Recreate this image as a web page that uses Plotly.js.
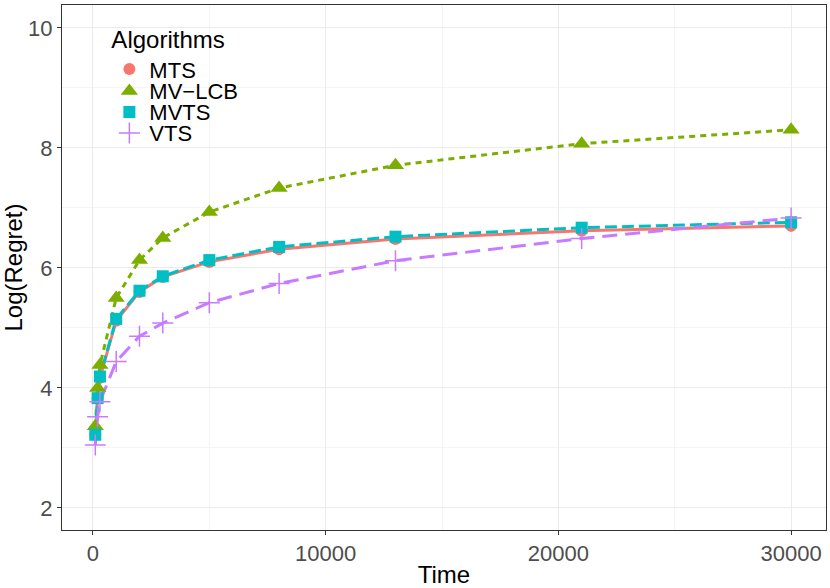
<!DOCTYPE html>
<html>
<head>
<meta charset="utf-8">
<script src="https://cdn.plot.ly/plotly-3.0.1.min.js"></script>
<style>
  html, body { margin: 0; padding: 0; background: #fff; }
  #myPlot { width: 830px; height: 588px; }
</style>
</head>
<body>
<div id="myPlot"></div>
<script>
// values
const time = [100, 200, 300, 1000, 2000, 3000, 5000, 8000, 13000, 21000, 30000];
const mts   = [3.22, 3.83, 4.17, 5.12, 5.60, 5.85, 6.10, 6.31, 6.48, 6.62, 6.70];
const mvlcb = [3.36, 4.00, 4.38, 5.50, 6.13, 6.50, 6.93, 7.33, 7.71, 8.07, 8.30];
const mvts  = [3.22, 3.83, 4.19, 5.15, 5.62, 5.86, 6.13, 6.35, 6.52, 6.67, 6.76];
const vts   = [3.05, 3.52, 3.77, 4.44, 4.86, 5.08, 5.42, 5.74, 6.12, 6.49, 6.83];

const names = ["MTS", "MV\u2212LCB", "MVTS", "VTS"];
const series = [mts, mvlcb, mvts, vts];
const colors = ["#F8766D", "#7CAE00", "#00BFC4", "#C77CFF"];
const dashes = ["solid", "6px,5px", "12px,5px", "15px,8px"];
const symbols = ["circle", "triangle-up", "square", "cross-thin"];
const sizes = [12, 15, 12, 15];
// one small legend per entry so the rows can sit closer than plotly's default spacing
const legendIds = ["legend", "legend2", "legend3", "legend4"];

const data = [];
// lines first (no legend entry, ggplot legend shows only the points)
for (let i = 0; i < series.length; i++) {
    data.push({
        x: time,
        y: series[i],
        mode: "lines",
        line: {color: colors[i], width: 3, dash: dashes[i]},
        showlegend: false,
        hoverinfo: "skip"
    });
}
for (let i = 0; i < series.length; i++) {
    data.push({
        x: time,
        y: series[i],
        mode: "markers",
        name: names[i],
        legend: legendIds[i],
        marker: {
            symbol: symbols[i],
            size: sizes[i],
            color: colors[i],
            line: {color: colors[i], width: symbols[i] == "cross-thin" ? 1.5 : 0}
        }
    });
}

const legFont = {size: 22, color: "#000"};
const legBase = {x: 0.062, xanchor: "left", bgcolor: "rgba(0,0,0,0)", font: legFont, itemwidth: 30};

const layout = {
    width: 830,
    height: 588,
    margin: {l: 62, r: 4, t: 5, b: 58},
    paper_bgcolor: "#fff",
    plot_bgcolor: "#fff",
    font: {family: "Liberation Sans, Arial, sans-serif", color: "#000"},
    showlegend: true,
    legend: Object.assign({}, legBase, {
        y: 0.977, yanchor: "top",
        title: {text: "Algorithms", font: {size: 24, color: "#000"}}
    }),
    legend2: Object.assign({}, legBase, {y: 0.836, yanchor: "middle"}),
    legend3: Object.assign({}, legBase, {y: 0.796, yanchor: "middle"}),
    legend4: Object.assign({}, legBase, {y: 0.756, yanchor: "middle"}),
    // white box behind the legend, like ggplot's legend background
    shapes: [{
        type: "rect", xref: "paper", yref: "paper", layer: "between",
        x0: 0.0628, x1: 0.233, y0: 0.724, y1: 0.971,
        fillcolor: "#fff", line: {width: 0}
    }],
    xaxis: {
        range: [-1330, 31500],
        tickvals: [0, 10000, 20000, 30000],
        ticktext: ["0", "10000", "20000", "30000"],
        ticks: "outside", ticklen: 4, tickcolor: "#333",
        tickfont: {size: 22, color: "#4D4D4D"},
        showgrid: true, gridcolor: "#EBEBEB", gridwidth: 1,
        minor: {showgrid: true, tickvals: [5000, 15000, 25000], gridcolor: "#F4F4F4", gridwidth: 1},
        showline: true, linecolor: "#333", linewidth: 1, mirror: true,
        zeroline: false,
        title: {text: "Time", font: {size: 24, color: "#000"}, standoff: 0}
    },
    yaxis: {
        range: [1.633, 10.38],
        tickvals: [2, 4, 6, 8, 10],
        ticks: "outside", ticklen: 4, tickcolor: "#333",
        tickfont: {size: 22, color: "#4D4D4D"},
        showgrid: true, gridcolor: "#EBEBEB", gridwidth: 1,
        minor: {showgrid: true, tickvals: [3, 5, 7, 9], gridcolor: "#F4F4F4", gridwidth: 1},
        showline: true, linecolor: "#333", linewidth: 1, mirror: true,
        zeroline: false,
        title: {text: "Log(Regret)", font: {size: 24, color: "#000"}, standoff: 6}
    }
};

Plotly.newPlot("myPlot", data, layout, {displayModeBar: false, displaylogo: false});
</script>
</body>
</html>
